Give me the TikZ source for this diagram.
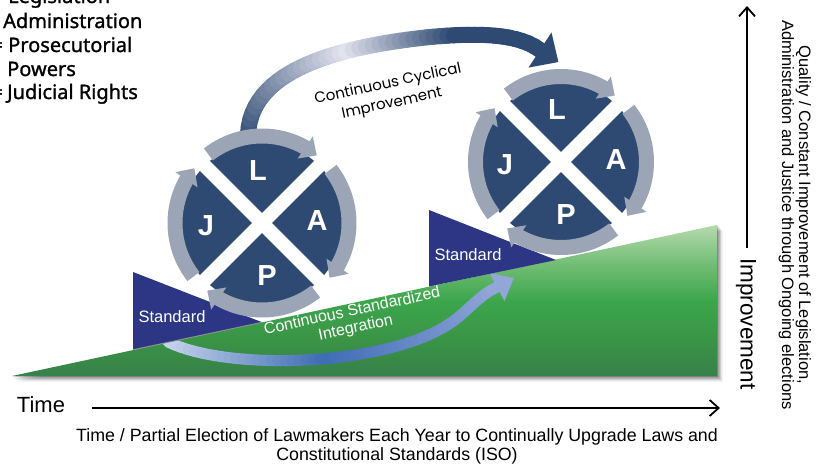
\documentclass[tikz,border=0pt]{standalone}
\usepackage{fontspec}
\setmainfont{Liberation Sans}
\newfontfamily\listfont[FakeBold=1.2]{Noto Sans}
\newfontfamily\popfont{Poppins}
\usetikzlibrary{arrows.meta,bending,calc,decorations.markings}
\definecolor{discc}{HTML}{2E4A72}
\definecolor{ringc}{HTML}{9CA5B5}
\definecolor{stdc}{HTML}{2C3684}
\definecolor{toplight}{HTML}{E2E3EE}
\definecolor{blight}{HTML}{C6D3EC}
\definecolor{bblue}{HTML}{3E6DB4}
\definecolor{bendc}{HTML}{93A6D8}
\definecolor{rampbot}{HTML}{37804A}
\definecolor{rampmid}{HTML}{3A9446}
\definecolor{rampbright}{HTML}{3CA64C}
\definecolor{ramplt}{HTML}{72BD74}
\definecolor{ramptop}{HTML}{B5DAAE}
\pgfdeclareverticalshading{rampshade}{100bp}{color(0bp)=(rampbot); color(25bp)=(rampbot); color(37bp)=(rampmid); color(50bp)=(rampbright); color(62bp)=(ramplt); color(75bp)=(ramptop); color(100bp)=(ramptop)}
\begin{document}
\begin{tikzpicture}[x=1pt,y=-1pt,
  ringarc/.style={draw=ringc, line width=15pt, -{Triangle[width=26pt,length=14pt]}},
  letter/.style={text=white, inner sep=0pt, font=\bfseries\fontsize{29}{29}\selectfont},
  stdlabel/.style={text=white, inner sep=0pt, font=\fontsize{16.5}{16.5}\selectfont},
  listitem/.style={anchor=base west, inner sep=0pt, font=\listfont\fontsize{20}{24}\selectfont},
  axisarrow/.style={line width=1.8pt, -{Straight Barb[length=9pt,width=16pt]}},
  marktop/.style={decoration={markings, mark=between positions 0 and 1 step 0.02 with {\coordinate (T\pgfkeysvalueof{/pgf/decoration/mark info/sequence number});}}, decorate},
  markbot/.style={decoration={markings, mark=between positions 0 and 1 step 0.02 with {\coordinate (B\pgfkeysvalueof{/pgf/decoration/mark info/sequence number});}}, decorate},
]
\useasboundingbox (0,0) rectangle (820,467);
\fill[white] (0,0) rectangle (820,467);

% ---- legend list (top left)
\node[listitem, anchor=base east] (eqL) at (3,3) {=};
\node[listitem] (legL) at (8,3) {Legislation};
\node[listitem] (legA) at (3,28) {Administration};
\node[listitem, anchor=base east] (eqP) at (3,52) {=};
\node[listitem] (legP) at (8,52) {Prosecutorial};
\node[listitem] (legP2) at (7,76) {Powers};
\node[listitem, anchor=base east] (eqJ) at (3,99) {=};
\node[listitem] (legJ) at (7,99) {Judicial Rights};

% ---- green ramp with shadow
\coordinate (rampL) at (12,376);
\coordinate (rampTR) at (717,225);
\coordinate (rampBR) at (717,376);
\foreach \d/\o in {1/0.22, 2.5/0.18, 4/0.13, 5.5/0.08}
  \fill[black, opacity=\o] ($(rampL)+(\d,\d)$) -- ($(rampTR)+(\d,\d)$) -- ($(rampBR)+(\d,\d)$) -- cycle;
\shade[shading=rampshade] (rampL) -- (rampTR) -- (rampBR) -- cycle;

% ---- bottom band: Continuous Standardized Integration
\coordinate (Bstart) at (168,342);
\coordinate (Bend) at (497,287);
\path[markbot] (Bstart) .. controls (230,372) and (390,366) .. (452,322) .. controls (468,311) and (478,296) .. (Bend);
\foreach \i [evaluate=\i as \j using int(\i+1), evaluate=\i as \f using (\i-1)/50] in {1,...,49} {
  \ifdim\f pt<0.45pt
    \pgfmathsetmacro\p{\f/0.45*100}
    \colorlet{segc}{bblue!\p!blight}
  \else
    \pgfmathsetmacro\p{(\f-0.45)/0.55*100}
    \colorlet{segc}{bendc!\p!bblue}
  \fi
  \draw[line width=11pt, line cap=round, segc] (B\i) -- (B\j);
}
\draw[line width=11pt, line cap=round, bendc] (B50) -- (Bend);
\coordinate (BE) at ($(Bend)!-19pt!(B50)$);
\fill[bendc] (BE) -- ($(Bend)!16pt!90:(BE)$) -- ($(Bend)!16pt!-90:(BE)$) -- cycle;

% ---- standard boxes
\fill[stdc] (133,272) -- (262,322.2) -- (133,349.7) -- cycle;
\draw[black!45, line width=0.8pt] (133,349.7) -- (262,322.2);
\fill[stdc] (429,210) -- (556,260) -- (429,286.5) -- cycle;
\node[stdlabel] (stdL) at (172,317) {Standard};
\node[stdlabel] (stdR) at (468,255) {Standard};

% ---- top band: Continuous Cyclical Improvement
\coordinate (Tstart) at (248,140);
\coordinate (Tend) at (540,50);
\path[marktop] (Tstart) .. controls (246,75) and (325,48) .. (430,37) .. controls (485,32) and (520,35) .. (Tend);
\foreach \i [evaluate=\i as \j using int(\i+1), evaluate=\i as \f using (\i-1)/50] in {1,...,49} {
  \ifdim\f pt<0.42pt
    \pgfmathsetmacro\p{\f/0.42*100}
  \else
    \ifdim\f pt<0.74pt
      \pgfmathsetmacro\p{(0.74-\f)/0.32*100}
    \else
      \def\p{0}
    \fi
  \fi
  \colorlet{segc}{toplight!\p!discc}
  \draw[line width=16pt, line cap=round, segc] (T\i) -- (T\j);
}
\draw[line width=16pt, line cap=round, discc] (T50) -- (Tend);
\coordinate (TE) at ($(Tend)!-22pt!(T50)$);
\fill[discc] (TE) -- ($(Tend)!21pt!90:(TE)$) -- ($(Tend)!21pt!-90:(TE)$) -- cycle;

% ---- LAPJ circles
\foreach \nm/\cx/\cy/\r in {lc/262/223/87, rc/561/162/85.5} {
  \pgfmathsetmacro\rd{\r-6}
  \pgfmathsetmacro\rx{\r+9}
  \coordinate (\nm) at (\cx,\cy);
  \fill[discc] (\nm) circle[radius=\rd];
  \draw[white, line width=14pt] ($(\nm)+(45:\rx)$) -- ($(\nm)+(225:\rx)$);
  \draw[white, line width=14pt] ($(\nm)+(135:\rx)$) -- ($(\nm)+(315:\rx)$);
  \foreach \a in {225,315,45,135} {
    \pgfmathsetmacro\sa{\a+7}
    \pgfmathsetmacro\ea{\a+84}
    \draw[ringarc] ($(\nm)+(\sa:\r)$) arc[start angle=\sa, end angle=\ea, radius=\r];
  }
  \node[letter] (\nm-L) at ($(\nm)+(-4,-52)$) {L};
  \node[letter] (\nm-A) at ($(\nm)+(55,-2)$) {A};
  \node[letter] (\nm-P) at ($(\nm)+(5,53)$) {P};
  \node[letter] (\nm-J) at ($(\nm)+(-56,3)$) {J};
}

% ---- band labels
\node[rotate=12, align=center, inner sep=0pt, font=\popfont\fontsize{15}{20}\selectfont] (cyc) at (390,94) {Continuous Cyclical\\Improvement};
\node[rotate=12, align=center, inner sep=0pt, text=white, font=\fontsize{16}{17}\selectfont] (integ) at (354,320) {Continuous Standardized\\Integration};

% ---- right axis
\coordinate (upA) at (747,248);
\coordinate (upB) at (747,6);
\draw[axisarrow] (upA) -- (upB);
\node[rotate=-90, inner sep=0pt, font=\fontsize{22.5}{22.5}\selectfont] (impr) at (746,324) {Improvement};
\node[rotate=-90, align=center, inner sep=0pt, font=\fontsize{16.5}{17}\selectfont] (qual) at (795,215) {Quality / Constant Improvement of Legislation,\\Administration and Justice through Ongoing elections};

% ---- time axis
\node[inner sep=0pt, font=\fontsize{22}{22}\selectfont] (time) at (41,405) {Time};
\coordinate (tA) at (92,408);
\coordinate (tB) at (720,408);
\draw[axisarrow] (tA) -- (tB);
\node[align=center, inner sep=0pt, font=\fontsize{17.8}{19}\selectfont] (cap) at (397,446) {Time / Partial Election of Lawmakers Each Year to Continually Upgrade Laws and\\Constitutional Standards (ISO)};
\end{tikzpicture}
\end{document}
